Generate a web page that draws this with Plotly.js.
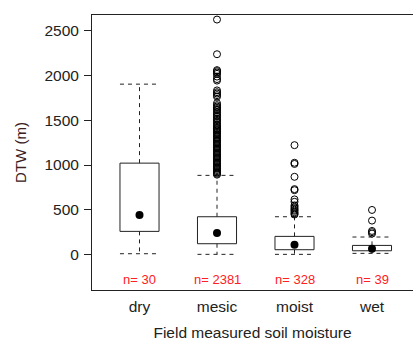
<!DOCTYPE html>
<html>
<head>
<meta charset="utf-8">
<script src="https://cdn.plot.ly/plotly-3.0.1.min.js"></script>
<style>html,body{margin:0;padding:0;background:#fff;}#chart{width:413px;height:342px;}</style>
</head>
<body>
<div id="chart"></div>
<script>
// ---- data ----
const categories = ['dry', 'mesic', 'moist', 'wet'];
const nObs = [30, 2381, 328, 39];
const lowerWhisker = [7, 0, 0, 11];
const q1 = [257, 119, 52, 40];
const medianVal = [440, 238, 107, 63];
const q3 = [1021, 421, 201, 100];
const upperWhisker = [1905, 884, 421, 194];

const outliersDry = [];
const outliersMesic = [2628, 2240, 2062, 2050, 2035, 2020, 1990, 1962, 1945,
  1835, 1815, 1800, 1782, 1765, 1692, 1670, 1655, 1641, 1626, 1612,
  1592, 1571, 1556, 1540, 1521, 1506, 1490, 1471, 1452, 1440, 1426, 1411, 1400,
  1386, 1371, 1358, 1342, 1329, 1313, 1298, 1284, 1270, 1256, 1241, 1227, 1212,
  1198, 1185, 1170, 1156, 1141, 1127, 1113, 1099, 1085, 1071, 1056, 1042, 1028,
  1014, 1000, 986, 972, 958, 944, 930, 916, 903, 892];
const outliersMoist = [1222, 1025, 1012, 868, 730, 718, 615, 588, 548, 532, 515, 500, 488, 472, 458, 446];
const outliersWet = [497, 378, 262, 248, 232];
const outliers = [outliersDry, outliersMesic, outliersMoist, outliersWet];

const yTicks = [0, 500, 1000, 1500, 2000, 2500];

// ---- styling / geometry ----
const halfW = 0.252;
const FONT = 'Liberation Sans, Arial, sans-serif';
const ink = '#222';

const xs = categories.map((c, i) => i + 1);

// box rectangles
const bx = [], by = [];
// whiskers (vertical) and staples (horizontal)
const wx = [], wy = [];
xs.forEach((x, i) => {
  bx.push(x - halfW, x + halfW, x + halfW, x - halfW, x - halfW, null);
  by.push(q1[i], q1[i], q3[i], q3[i], q1[i], null);
  wx.push(x, x, null, x, x, null);
  wy.push(q3[i], upperWhisker[i], null, q1[i], lowerWhisker[i], null);
  wx.push(x - halfW, x + halfW, null, x - halfW, x + halfW, null);
  wy.push(upperWhisker[i], upperWhisker[i], null, lowerWhisker[i], lowerWhisker[i], null);
});

const ox = [], oy = [];
outliers.forEach((arr, i) => arr.forEach(v => { ox.push(xs[i]); oy.push(v); }));

const traces = [
  { x: wx, y: wy, type: 'scatter', mode: 'lines', line: { color: ink, width: 1, dash: '4px,4px' }, hoverinfo: 'skip', connectgaps: false },
  { x: bx, y: by, type: 'scatter', mode: 'lines', line: { color: ink, width: 1 }, hoverinfo: 'skip', connectgaps: false },
  { x: xs, y: medianVal, type: 'scatter', mode: 'markers', marker: { symbol: 'circle', size: 8, color: '#000' } },
  { x: ox, y: oy, type: 'scatter', mode: 'markers', marker: { symbol: 'circle-open', size: 7, color: '#000', line: { width: 1, color: '#000' } } }
];

const annotations = xs.map((x, i) => ({
  x: x, y: -280, xref: 'x', yref: 'y', text: 'n= ' + nObs[i], showarrow: false,
  font: { family: FONT, size: 13, color: '#ff2020' }, xanchor: 'center', yanchor: 'middle'
}));

const layout = {
  width: 413, height: 342,
  margin: { l: 92, r: 0, t: 15, b: 52 },
  paper_bgcolor: '#fff', plot_bgcolor: '#fff',
  showlegend: false,
  font: { family: FONT, color: ink },
  xaxis: {
    range: [0.387, 4.529], tickvals: xs, ticktext: categories,
    showgrid: false, zeroline: false, showline: true, mirror: true, linecolor: '#222', linewidth: 1,
    ticks: '', ticklabelstandoff: 2, tickfont: { family: FONT, size: 15.5, color: ink },
    title: { text: 'Field measured soil moisture', font: { family: FONT, size: 15.5, color: ink }, standoff: 13 }
  },
  yaxis: {
    range: [-399, 2679], tickvals: yTicks, ticktext: yTicks.map(String),
    showgrid: false, zeroline: false, showline: true, linecolor: '#222', linewidth: 1,
    ticks: 'outside', ticklen: 7, tickcolor: '#222', tickwidth: 1, ticklabelstandoff: 2,
    tickfont: { family: FONT, size: 15.5, color: ink },
    title: { text: 'DTW (m)', font: { family: FONT, size: 15, color: '#3a2020' }, standoff: 14 }
  },
  annotations: annotations
};

Plotly.newPlot('chart', traces, layout, { displayModeBar: false, staticPlot: true });
</script>
</body>
</html>
